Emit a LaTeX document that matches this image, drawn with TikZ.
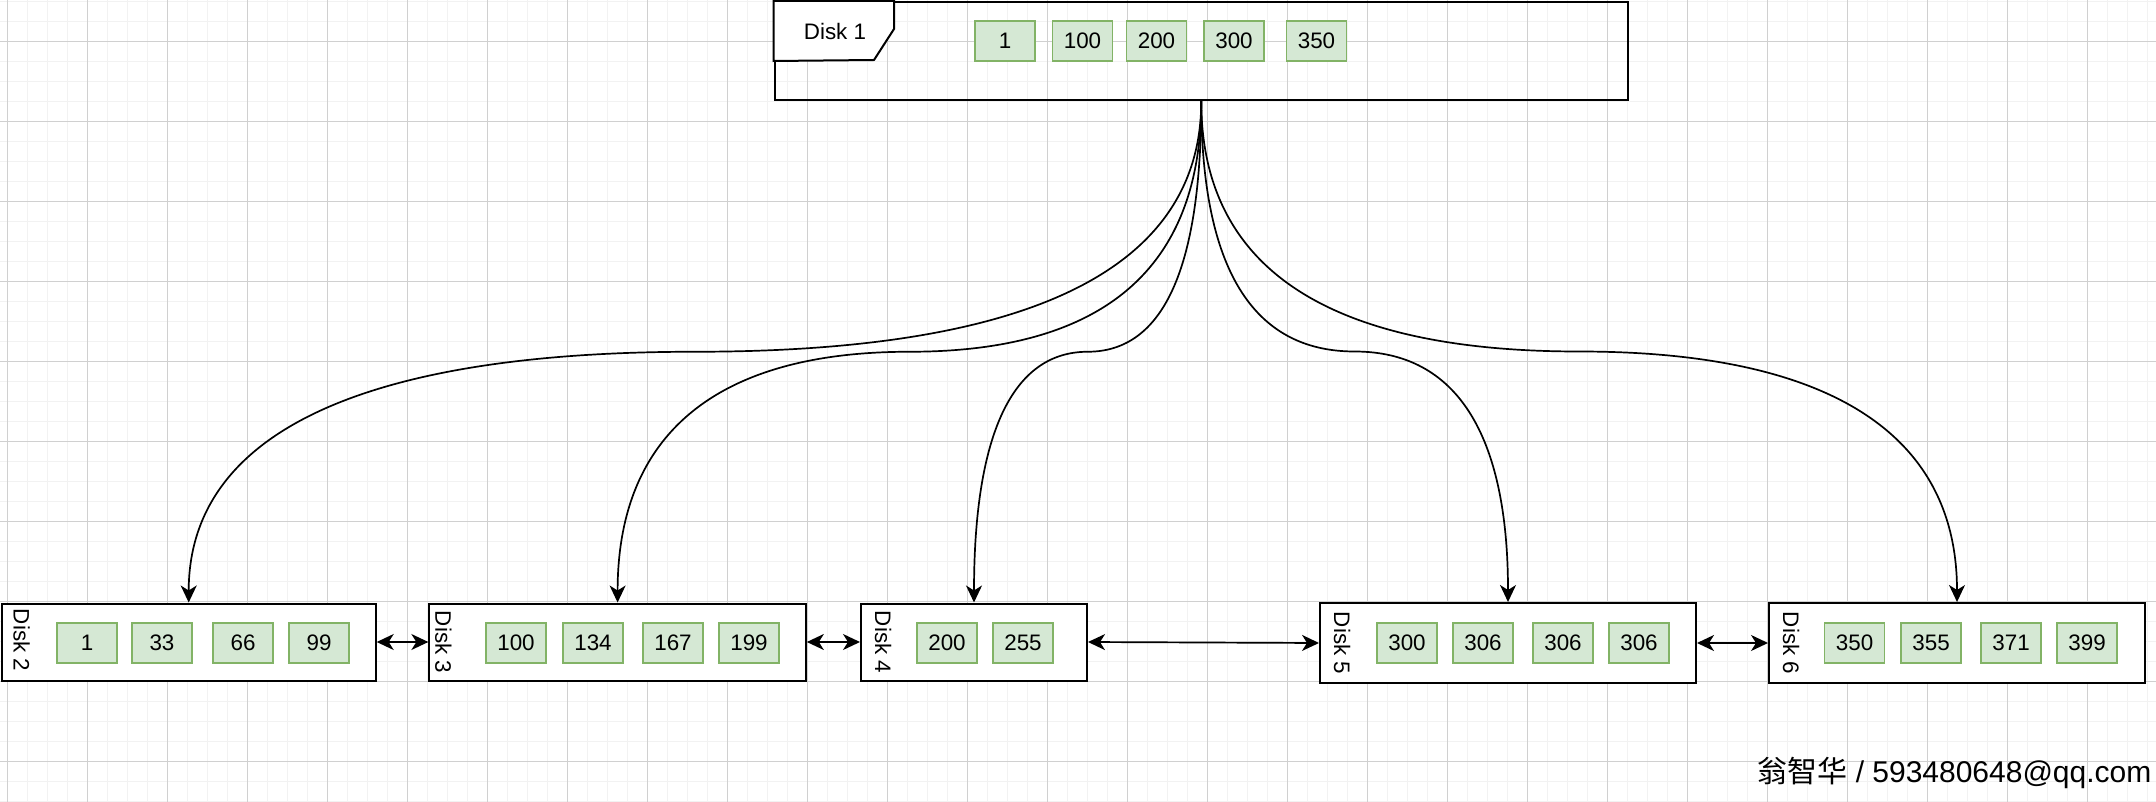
\documentclass[tikz,border=0pt]{standalone}
\usepackage{fontspec}
\setmainfont{Liberation Sans}
\newfontfamily\cjkfont{Noto Sans CJK SC}
\usetikzlibrary{arrows.meta,calc}

\definecolor{gridmajor}{RGB}{208,208,208}
\definecolor{gridminor}{RGB}{242,242,242}
\definecolor{cellfill}{RGB}{213,232,212}
\definecolor{celldraw}{RGB}{130,179,102}

\newcommand\diskcurve[1]{%
  \coordinate (cM) at ($(d1.south)!0.5!(#1.north)$);
  \coordinate (cA) at (d1.south |- cM);
  \coordinate (cB) at (#1.north |- cM);
  \draw[conn] (d1.south) .. controls ($(d1.south)!0.6667!(cA)$) and ($(cM)!0.6667!(cA)$) .. (cM)
    .. controls ($(cM)!0.6667!(cB)$) and ($(#1.north)!0.6667!(cB)$) .. (#1.north);
}

\begin{document}
\begin{tikzpicture}[x=0.5pt,y=-0.5pt,
  diskbox/.style={draw=black,line width=1pt,fill=white,inner sep=0pt,rectangle},
  cell/.style={draw=celldraw,fill=cellfill,line width=0.75pt,minimum width=30pt,minimum height=20pt,inner sep=0pt,font=\fontsize{11.2pt}{13pt}\selectfont},
  disklabel/.style={font=\fontsize{11.2pt}{13pt}\selectfont,inner sep=0pt},
  tipA/.tip={Stealth[length=8.5pt,width=8pt,inset=2.5pt]},
  conn/.style={line width=0.85pt,-tipA},
  dconn/.style={line width=0.85pt,tipA-tipA},
]
\useasboundingbox (0,0) rectangle (2156,802);
\fill[white] (0,0) rectangle (2156,802);
% grid
\begin{scope}
\clip (0,0) rectangle (2156,802);
\draw[gridminor,line width=0.75pt] \foreach \x in {7.3,27.3,...,2160} {(\x,0) -- (\x,802)};
\draw[gridminor,line width=0.75pt] \foreach \y in {1.3,21.3,...,810} {(0,\y) -- (2156,\y)};
\draw[gridmajor,line width=0.5pt] \foreach \x in {7.3,87.3,...,2160} {(\x,0) -- (\x,802)};
\draw[gridmajor,line width=0.5pt] \foreach \y in {41.3,121.3,...,810} {(0,\y) -- (2156,\y)};
\end{scope}

% top disk
\node[draw=black,line width=1pt,inner sep=0pt,minimum width=426.75pt,minimum height=49pt] (d1) at (1201.25,51) {};
\draw[fill=white,line width=1pt] (d1.north west) -- ++(120.5,0) -- ++(0,28) -- ++(-20,31) -- (d1.north west |- 0,61) -- cycle;
\node[disklabel] (t1) at (835,31) {Disk 1};
\node[cell] (a1) at (1005,41) {1};
\node[cell] (a2) at (1082.5,41) {100};
\node[cell] (a3) at (1156.5,41) {200};
\node[cell] (a4) at (1234,41) {300};
\node[cell] (a5) at (1316.5,41) {350};

% bottom disks
\node[diskbox,minimum width=187pt,minimum height=38.5pt] (d2) at (188.7,642) {};
\node[diskbox,minimum width=188.25pt,minimum height=38.5pt] (d3) at (617.6,642) {};
\node[diskbox,minimum width=113pt,minimum height=38.5pt] (d4) at (974,642) {};
\node[diskbox,minimum width=188pt,minimum height=40pt] (d5) at (1508,643) {};
\node[diskbox,minimum width=188pt,minimum height=40pt] (d6) at (1957,643) {};

\node[disklabel,rotate=-90] (t2) at ($(d2.west)+(21,-2)$) {Disk 2};
\node[disklabel,rotate=-90] (t3) at ($(d3.west)+(15,0)$) {Disk 3};
\node[disklabel,rotate=-90] (t4) at ($(d4.west)+(23,0)$) {Disk 4};
\node[disklabel,rotate=-90] (t5) at ($(d5.west)+(23,0)$) {Disk 5};
\node[disklabel,rotate=-90] (t6) at ($(d6.west)+(23,0)$) {Disk 6};

\node[cell] (b1) at (87,643) {1};
\node[cell] (b2) at (162,643) {33};
\node[cell] (b3) at (243,643) {66};
\node[cell] (b4) at (319,643) {99};

\node[cell] (c1) at (516,643) {100};
\node[cell] (c2) at (593,643) {134};
\node[cell] (c3) at (673,643) {167};
\node[cell] (c4) at (749,643) {199};

\node[cell] (e1) at (947,643) {200};
\node[cell] (e2) at (1023,643) {255};

\node[cell] (f1) at (1407,643) {300};
\node[cell] (f2) at (1483,643) {306};
\node[cell] (f3) at (1563,643) {306};
\node[cell] (f4) at (1639,643) {306};

\node[cell] (g1) at (1854.5,643) {350};
\node[cell] (g2) at (1931,643) {355};
\node[cell] (g3) at (2011,643) {371};
\node[cell] (g4) at (2087,643) {399};

% curved connectors
\diskcurve{d2}
\diskcurve{d3}
\diskcurve{d4}
\diskcurve{d5}
\diskcurve{d6}

% horizontal links
\draw[dconn] (d2.east) -- (d3.west);
\draw[dconn] (d3.east) -- (d4.west);
\draw[dconn] (d4.east) -- (d5.west);
\draw[dconn] (d5.east) -- (d6.west);

% watermark
\node[anchor=base west,inner sep=0pt,font=\fontsize{15pt}{18pt}\selectfont] (wm) at (1757,782) {{\cjkfont 翁智华} / 593480648@qq.com};
\end{tikzpicture}
\end{document}
